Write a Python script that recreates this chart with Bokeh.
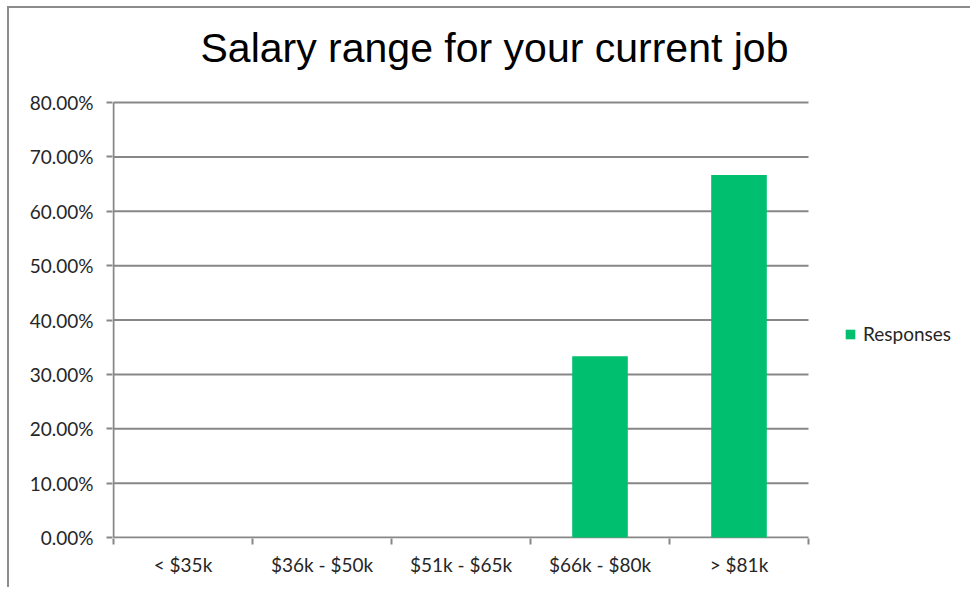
from bokeh.plotting import figure
from bokeh.models import (Range1d, FixedTicker, NumeralTickFormatter, Legend, LegendItem,
                          ColumnDataSource)
from bokeh.embed import file_html
from bokeh.resources import INLINE

# ---- data ----
categories = ["< $35k", "$36k - $50k", "$51k - $65k", "$66k - $80k", "> $81k"]
responses = [0.0, 0.0, 0.0, 0.3333, 0.6667]
y_ticks = [0.0, 0.1, 0.2, 0.3, 0.4, 0.5, 0.6, 0.7, 0.8]
series_name = "Responses"
title_text = "Salary range for your current job"

GRAY = "#878787"
TXT = "#262626"
GREEN = "#00BF6F"
LABEL_FONT = "Lato"
LABEL_SIZE = "19px"

# ---- layout (pixels) ----
W, H = 963, 581            # canvas size (plus 2px CSS border, 7/6px CSS margin)
PLOT_W, PLOT_H = 695, 435  # size of the category/value area
FRAME_W = 856              # frame reaches further right to hold the legend
FRAME_TOP = 62             # frame reaches higher to hold the title close to the top
BORDER_L, BORDER_B = 103, 51

n = len(categories)
y_max = y_ticks[-1]
dx = n / PLOT_W
dy = y_max / PLOT_H
x_start = -1 * dx
x_end = x_start + FRAME_W * dx
frame_h = H - FRAME_TOP - BORDER_B
y_start = -1 * dy
y_end = y_start + frame_h * dy

xpos = [i + 0.5 for i in range(n)]
src = ColumnDataSource(dict(x=xpos, top=responses, cat=categories))
grid_src = ColumnDataSource(dict(x0=[0] * len(y_ticks), x1=[n] * len(y_ticks),
                                 y=y_ticks))

p = figure(width=W, height=H, output_backend="svg", toolbar_location=None,
           x_range=Range1d(x_start, x_end), y_range=Range1d(y_start, y_end),
           min_border_left=BORDER_L, min_border_right=W - BORDER_L - FRAME_W,
           min_border_top=FRAME_TOP, min_border_bottom=BORDER_B)
p.styles = {"border-left": "2px solid #8c8c8c", "border-top": "2px solid #8c8c8c",
            "margin-left": "7px", "margin-top": "6px"}

p.title.text = title_text
p.title.text_font = "Liberation Sans"
p.title.text_font_size = "41px"
p.title.text_font_style = "normal"
p.title.text_color = "#000000"
p.title.align = "left"
p.title.vertical_align = "bottom"
p.title.offset = 88
p.title.standoff = 0

# gridlines and the value-axis line (stop at the ends of the axes)
p.segment(x0="x0", x1="x1", y0="y", y1="y", source=grid_src, line_color=GRAY,
          line_width=2)
p.segment(x0=[0], x1=[0], y0=[0], y1=[y_max], line_color=GRAY, line_width=2)

r = p.vbar(x="x", top="top", width=0.4, source=src, color=GREEN, line_color=None)

p.outline_line_color = None
p.xgrid.grid_line_color = None
p.ygrid.grid_line_color = None

# y axis
ya = p.yaxis[0]
ya.ticker = FixedTicker(ticks=y_ticks)
ya.formatter = NumeralTickFormatter(format="0.00%")
ya.axis_line_color = None
ya.major_tick_line_color = GRAY
ya.major_tick_line_width = 2
ya.major_tick_out = 6
ya.major_tick_in = 0
ya.minor_tick_line_color = None
ya.major_label_text_font = LABEL_FONT
ya.major_label_text_font_size = LABEL_SIZE
ya.major_label_text_color = TXT
ya.major_label_standoff = 13

# x axis
xa = p.xaxis[0]
xa.ticker = FixedTicker(ticks=xpos, minor_ticks=list(range(n + 1)))
xa.major_label_overrides = {x: c for x, c in zip(xpos, categories)}
xa.axis_line_color = None
xa.major_tick_line_color = None
xa.minor_tick_line_color = GRAY
xa.minor_tick_line_width = 2
xa.minor_tick_out = 6
xa.minor_tick_in = 0
xa.major_label_text_font = LABEL_FONT
xa.major_label_text_font_size = LABEL_SIZE
xa.major_label_text_color = TXT
xa.major_label_standoff = 8

legend = Legend(items=[LegendItem(label=series_name, renderers=[r])],
                location=(732, 193), orientation="vertical")
legend.border_line_color = None
legend.background_fill_alpha = 0
legend.padding = 0
legend.margin = 0
legend.glyph_width = 12
legend.glyph_height = 12
legend.label_text_font = LABEL_FONT
legend.label_text_font_size = LABEL_SIZE
legend.label_text_color = TXT
legend.label_standoff = 7
p.add_layout(legend, "center")

open("out.html", "w").write(file_html(p, INLINE))
